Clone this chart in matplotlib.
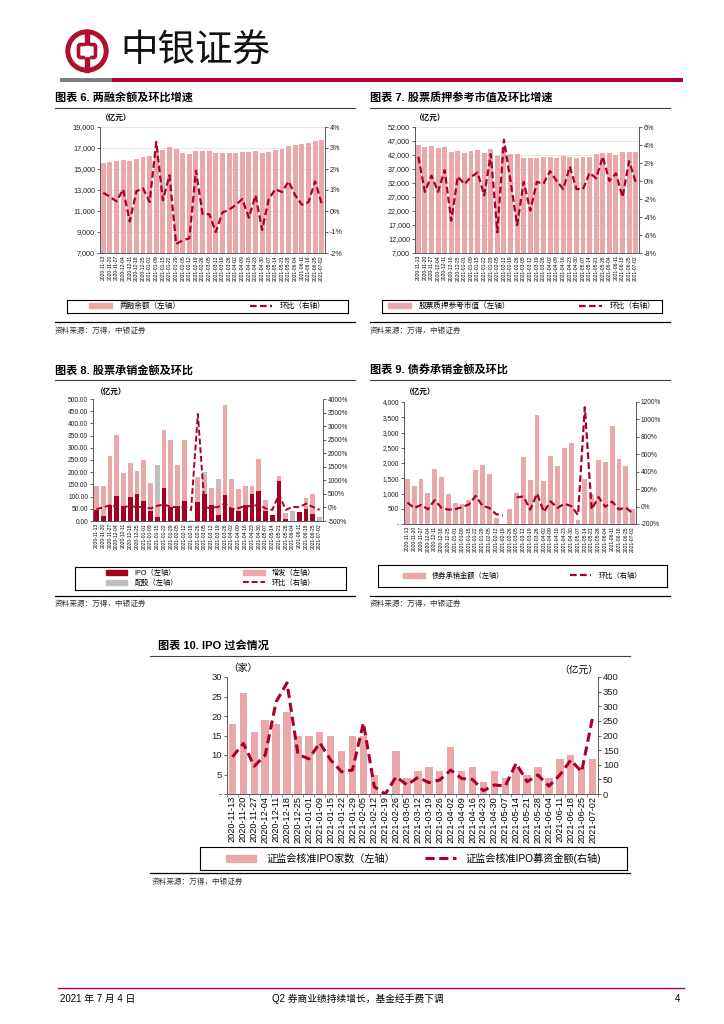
import matplotlib.pyplot as plt
import matplotlib.patches as mpatches
from matplotlib.lines import Line2D
from matplotlib.ticker import FuncFormatter, FixedLocator

plt.rcParams['font.family'] = ['Liberation Sans', 'Noto Sans CJK SC']

# ---- data ----
dates = ["2020-11-13", "2020-11-20", "2020-11-27", "2020-12-04", "2020-12-11", "2020-12-18",
         "2020-12-25", "2021-01-01", "2021-01-09", "2021-01-15", "2021-01-22", "2021-01-29",
         "2021-02-05", "2021-02-12", "2021-02-19", "2021-02-26", "2021-03-05", "2021-03-12",
         "2021-03-19", "2021-03-26", "2021-04-02", "2021-04-09", "2021-04-16", "2021-04-23",
         "2021-04-30", "2021-05-07", "2021-05-14", "2021-05-21", "2021-05-28", "2021-06-04",
         "2021-06-11", "2021-06-18", "2021-06-25", "2021-07-02"]

# chart 6: margin balance (100m yuan) and w/w change (%)
margin_bal = [15550, 15630, 15730, 15860, 15790, 15980, 16110, 16210, 16750, 16810,
              17060, 16870, 16560, 16400, 16750, 16710, 16680, 16520, 16490, 16520,
              16560, 16650, 16590, 16680, 16560, 16590, 16810, 16900, 17160, 17320,
              17380, 17480, 17700, 17790]
margin_chg = [0.87, 0.67, 0.46, 1.03, -0.5, 0.94, 1.08, 0.43, 3.29, 0.51,
              1.7, -1.57, -1.4, -1.3, 1.92, -0.14, -0.15, -1.0, -0.07, 0.06,
              0.28, 0.57, -0.32, 0.75, -0.9, 0.57, 1.04, 0.9, 1.41, 0.75,
              0.3, 0.42, 1.41, 0.35]

# chart 7: pledged stock market value and w/w change (%)
pledge_val = [45450, 44740, 45100, 44500, 44980, 43070, 43300, 42830, 43300, 43660,
              42830, 44140, 41760, 44500, 42240, 42240, 40930, 40930, 40800, 41290,
              41170, 40800, 41520, 41170, 40800, 41170, 41290, 42480, 42600, 42830,
              42000, 42950, 43070, 43070]
pledge_chg = [2.7, -1.2, 0.6, -1.2, 1.2, -4.4, 0.5, -0.35, 0.45, 0.95,
              -1.6, 3.0, -5.7, 4.6, 0.0, -4.9, -0.1, -3.3, -0.1, -0.3,
              1.1, 0.0, -0.9, 1.6, -0.9, -0.9, 0.9, 0.3, 2.7, 0.0,
              0.85, -1.8, 2.2, -0.1]

# chart 8: equity underwriting (100m yuan), stacked parts, and w/w change (%)
ipo_amt = [44, 22, 66, 103, 63, 98, 109, 84, 40, 15,
           135, 56, 63, 84, 0, 79, 110, 67, 23, 107,
           53, 43, 67, 112, 121, 42, 23, 165, 10, 0,
           37, 49, 29, 0]
seo_amt = [98, 122, 201, 251, 133, 140, 94, 165, 115, 65,
           238, 276, 167, 248, 5, 103, 72, 68, 120, 368,
           119, 89, 75, 32, 134, 34, 0, 20, 23, 0,
           0, 45, 81, 0]
rights_amt = [0, 0, 0, 0, 0, 0, 0, 0, 0, 150,
              0, 0, 0, 0, 0, 0, 17, 0, 30, 0,
              0, 0, 0, 0, 0, 12, 0, 0, 0, 40,
              0, 0, 0, 18]
equity_chg = [-60, 0, 80, 30, 10, 60, 10, 30, -40, 60,
              110, 20, 10, 10, -98, 3450, 0, -20, 20, 150,
              -60, -30, 60, 40, 110, -40, -90, 480, -90, 20,
              10, 140, 20, -90]

# chart 9: bond underwriting (100m yuan) and w/w change (%), None = not available
bond_amt = [1490, 1240, 1480, 1020, 1800, 1525, 990, 690, 645, 795,
            1765, 1930, 1645, 196, 0, 500, 1020, 2210, 1440, 3580,
            1395, 2220, 1895, 2505, 2645, 120, 1490, 1000, 2090, 2025,
            3200, 2135, 1895, 490]
bond_chg = [46, -17, 19, -31, 75, -15, -35, -31, -6, 24,
            122, 9, -15, -88, -100, None, 105, 116, -35, 149,
            -61, 59, -15, 32, 6, -96, 1140, -33, 109, -3,
            58, -33, -11, -77]

# chart 10: CSRC approved IPOs (count) and amount (100m yuan)
ipo_count = [18, 26, 16, 19, 18, 21, 15, 15, 16, 15,
             11, 15, 15, 5, 0, 11, 4, 6, 7, 6,
             12, 6, 7, 3, 6, 4, 7, 5, 7, 4,
             9, 10, 7, 9]
ipo_raise = [127, 173, 95, 133, 315, 380, 136, 120, 175, 116,
             76, 82, 243, 25, 0, 59, 31, 57, 39, 48,
             82, 53, 50, 11, 31, 27, 105, 42, 65, 27,
             65, 116, 76, 261]

PINK = '#E9A9A9'
RED = '#A8002A'
DARKRED = '#A50021'
GRAY = '#BFBFBF'
AXC = '#595959'

W, H = 724, 1024
fig = plt.figure(figsize=(W / 100, H / 100), dpi=100)
page = fig.add_axes([0, 0, 1, 1])
page.set_xlim(0, W)
page.set_ylim(H, 0)
page.axis('off')


def box(x0, y0, x1, y1):
    return [x0 / W, 1 - y1 / H, (x1 - x0) / W, (y1 - y0) / H]


def style_axes(ax, axr, xs, fs=5.2, xfs=3.6, grid=False):
    for a in (ax, axr):
        a.spines['top'].set_visible(False)
        for s in ('left', 'right', 'bottom'):
            a.spines[s].set_color(AXC)
            a.spines[s].set_linewidth(0.6)
        a.tick_params(axis='y', labelsize=fs, length=2, width=0.5, pad=1.5, colors='#222222')
    ax.set_xlim(-0.5, len(xs) - 0.5)
    ax.set_xticks(range(len(xs)))
    ax.set_xticklabels(xs, rotation=90, fontsize=xfs)
    ax.tick_params(axis='x', length=0, pad=1.5)
    if grid:
        ax.grid(axis='y', color='#D9D9D9', lw=0.5)
    ax.set_axisbelow(True)


def legend_box(rect, handles, labels, fs, ncol=2, colsp=6, hl=3):
    lax = fig.add_axes(box(*rect))
    lax.set_xticks([])
    lax.set_yticks([])
    for s in lax.spines.values():
        s.set_linewidth(0.8)
        s.set_color('black')
    lax.legend(handles, labels, loc='center', ncol=ncol, frameon=False, fontsize=fs,
               handlelength=hl, columnspacing=colsp, handletextpad=1.0, labelspacing=0.3,
               borderpad=0.2)


def section(x0, x1, ytitle, title, yline_bottom, src_y):
    page.text(x0, ytitle, title, fontsize=8, fontweight='bold', va='center', ha='left')
    page.plot([x0, x1], [ytitle + 10, ytitle + 10], color='#404040', lw=0.8)
    if yline_bottom is not None:
        page.plot([x0, x1], [yline_bottom, yline_bottom], color='black', lw=0.9)
    page.text(x0, src_y, '资料来源：万得，中银证券', fontsize=5.5, style='italic',
              va='center', ha='left', color='#333333')


def dash_handle(lw=1.6):
    return Line2D([], [], color=RED, lw=lw, ls=(0, (3, 1.5)))


x = list(range(len(dates)))
pct = FuncFormatter(lambda v, p: f'{v:.0f}%')

# ---- header ----
page.add_patch(mpatches.Circle((87, 51), 21, color='#B0102E'))
page.add_patch(mpatches.Circle((87, 51), 16, color='white'))
page.add_patch(mpatches.Rectangle((85, 30), 4, 42, color='#B0102E'))
page.add_patch(mpatches.FancyBboxPatch((78.5, 44.5), 17, 13, boxstyle='round,pad=0,rounding_size=2',
                                       fc='white', ec='#B0102E', lw=2.6))
page.add_patch(mpatches.Rectangle((85.2, 46), 3.6, 10, color='white'))
page.text(120, 52, '中银证券', fontsize=27, va='center', ha='left', color='#111111')
page.add_patch(mpatches.Rectangle((60, 78), 52, 4, color='#7F7F7F', lw=0))
page.add_patch(mpatches.Rectangle((112, 78), 571, 4, color='#B0002B', lw=0))

# ---- chart 6 ----
section(55, 355, 98, '图表 6. 两融余额及环比增速', 322, 331)
ax6 = fig.add_axes(box(100, 127, 325, 253))
ax6.bar(x, margin_bal, width=0.75, color=PINK)
ax6.set_ylim(7000, 19000)
ax6.set_yticks(range(7000, 19001, 2000))
ax6.yaxis.set_major_formatter(FuncFormatter(lambda v, p: f'{v:,.0f}'))
ax6r = ax6.twinx()
ax6r.plot(x, margin_chg, color=RED, lw=1.6, ls=(0, (3, 1.5)))
ax6r.set_ylim(-2, 4)
ax6r.set_yticks(range(-2, 5))
ax6r.yaxis.set_major_formatter(pct)
style_axes(ax6, ax6r, dates, grid=True)
page.text(101, 118, '（亿元）', fontsize=5.5, fontweight='bold', va='center', ha='left')
legend_box((67, 300, 348, 313), [mpatches.Patch(color=PINK), dash_handle()],
           ['两融余额（左轴）', '环比（右轴）'], fs=5.5, colsp=9)

# ---- chart 7 ----
section(370, 670, 98, '图表 7. 股票质押参考市值及环比增速', 322, 331)
ax7 = fig.add_axes(box(415, 127, 639, 253))
ax7.bar(x, pledge_val, width=0.75, color=PINK)
ax7.set_ylim(7000, 52000)
ax7.set_yticks(range(7000, 52001, 5000))
ax7.yaxis.set_major_formatter(FuncFormatter(lambda v, p: f'{v:,.0f}'))
ax7r = ax7.twinx()
ax7r.plot(x, pledge_chg, color=RED, lw=1.6, ls=(0, (3, 1.5)))
ax7r.set_ylim(-8, 6)
ax7r.set_yticks(range(-8, 7, 2))
ax7r.yaxis.set_major_formatter(pct)
style_axes(ax7, ax7r, dates, grid=True)
page.text(415, 118, '（亿元）', fontsize=5.5, fontweight='bold', va='center', ha='left')
legend_box((382, 300, 662, 313), [mpatches.Patch(color=PINK), dash_handle()],
           ['股票质押参考市值（左轴）', '环比（右轴）'], fs=5.5, colsp=9)

# ---- chart 8 ----
section(55, 355, 370, '图表 8. 股票承销金额及环比', 596, 604)
ax8 = fig.add_axes(box(93, 399, 323, 521))
ax8.bar(x, ipo_amt, width=0.7, color=DARKRED)
ax8.bar(x, seo_amt, width=0.7, bottom=ipo_amt, color=PINK)
base8 = [a + b for a, b in zip(ipo_amt, seo_amt)]
ax8.bar(x, rights_amt, width=0.7, bottom=base8, color=GRAY)
ax8.set_ylim(0, 500)
ax8.set_yticks(range(0, 501, 50))
ax8.yaxis.set_major_formatter(FuncFormatter(lambda v, p: f'{v:.2f}'))
ax8r = ax8.twinx()
ax8r.plot(x, equity_chg, color=RED, lw=1.4, ls=(0, (3, 1.5)))
ax8r.set_ylim(-500, 4000)
ax8r.set_yticks(range(-500, 4001, 500))
ax8r.yaxis.set_major_formatter(pct)
style_axes(ax8, ax8r, dates, fs=4.8)
page.text(96, 392, '（亿元）', fontsize=5.5, fontweight='bold', va='center', ha='left')
legend_box((75, 567, 346, 590),
           [mpatches.Patch(color=DARKRED), mpatches.Patch(color=GRAY),
            mpatches.Patch(color=PINK), dash_handle(1.4)],
           ['IPO（左轴）', '配股（左轴）', '增发（左轴）', '环比（右轴）'], fs=5.2, colsp=9)

# ---- chart 9 ----
section(370, 670, 370, '图表 9. 债券承销金额及环比', 596, 604)
ax9 = fig.add_axes(box(404, 402, 636, 524))
ax9.bar(x, bond_amt, width=0.7, color=PINK)
ax9.set_ylim(0, 4000)
ax9.set_yticks(range(0, 4001, 500))
ax9.yaxis.set_major_formatter(FuncFormatter(lambda v, p: '-' if v == 0 else f'{v:,.0f}'))
ax9r = ax9.twinx()
bond_chg_plot = [float('nan') if v is None else v for v in bond_chg]
ax9r.plot(x, bond_chg_plot, color=RED, lw=1.6, ls=(0, (3, 1.5)))
ax9r.set_ylim(-200, 1200)
ax9r.set_yticks(range(-200, 1201, 200))
ax9r.yaxis.set_major_formatter(pct)
style_axes(ax9, ax9r, dates, fs=4.8)
page.text(405, 392, '（亿元）', fontsize=5.5, fontweight='bold', va='center', ha='left')
legend_box((378, 565, 667, 587), [mpatches.Patch(color=PINK), dash_handle()],
           ['债券承销金额（左轴）', '环比（右轴）'], fs=5.2, colsp=9)

# ---- chart 10 ----
page.text(158, 645, '图表 10. IPO 过会情况', fontsize=8, fontweight='bold', va='center', ha='left')
page.plot([150, 630], [656, 656], color='#404040', lw=0.8)
page.plot([150, 630], [873, 873], color='black', lw=0.9)
page.text(152, 882, '资料来源：万得，中银证券', fontsize=5.5, style='italic',
          va='center', ha='left', color='#333333')
ax10 = fig.add_axes(box(227, 677, 598, 794))
ax10.bar(x, ipo_count, width=0.68, color=PINK)
ax10.set_ylim(0, 30)
ax10.set_yticks(range(0, 31, 5))
ax10.yaxis.set_major_formatter(FuncFormatter(lambda v, p: '-' if v == 0 else f'{v:.0f}'))
ax10r = ax10.twinx()
ax10r.plot(x, ipo_raise, color=RED, lw=2.2, ls=(0, (3, 1.6)))
ax10r.set_ylim(0, 400)
ax10r.set_yticks(range(0, 401, 50))
style_axes(ax10, ax10r, dates, fs=6.8, xfs=6.6)
ax10.xaxis.set_minor_locator(FixedLocator([i - 0.5 for i in range(len(dates) + 1)]))
ax10.tick_params(axis='x', which='minor', length=2.5, width=0.5, color=AXC)
page.text(228, 668, '（家）', fontsize=7, va='center', ha='left')
page.text(598, 670, '（亿元）', fontsize=7, va='center', ha='right')
legend_box((200, 847, 627, 870), [mpatches.Patch(color=PINK), dash_handle(2.2)],
           ['证监会核准IPO家数（左轴）', '证监会核准IPO募资金额(右轴)'], fs=7.3, colsp=3, hl=3)

# ---- footer ----
page.plot([58, 684], [988, 988], color='#B0002B', lw=1.0)
page.text(60, 999, '2021 年 7 月 4 日', fontsize=7, va='center', ha='left')
page.text(272, 999, 'Q2 券商业绩持续增长，基金经手费下调', fontsize=7, va='center', ha='left')
page.text(680, 999, '4', fontsize=7, va='center', ha='right')

fig.savefig('out.png', dpi=100)
